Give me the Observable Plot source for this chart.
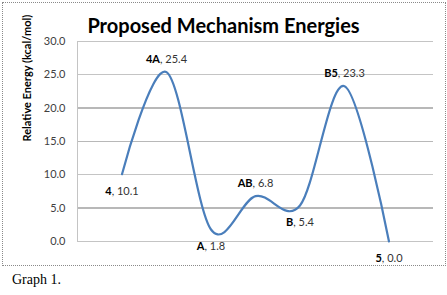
<!DOCTYPE html>
<html><head><meta charset="utf-8">
<script src="https://cdn.jsdelivr.net/npm/d3@7"></script>
<script src="https://cdn.jsdelivr.net/npm/@observablehq/plot@0.6"></script>
<style>
html,body{margin:0;padding:0;background:#fff;}
#wrap{position:relative;width:447px;height:295px;overflow:hidden;font-family:Lato,"Open Sans",sans-serif;}
#frame{position:absolute;left:2px;top:2px;width:442px;height:262px;border:1px dotted #8a8a8a;}
#title{position:absolute;left:0;width:447px;top:13px;text-align:center;font-weight:bold;font-size:20px;line-height:24px;color:#000;white-space:nowrap;}
#chart{position:absolute;left:0;top:0;}
#caption{position:absolute;left:12px;top:272px;font-family:"Liberation Serif","Times New Roman",serif;font-size:14px;color:#000;}
</style></head>
<body>
<div id="wrap">
  <div id="frame"></div>
  <div id="chart"></div>
  <div id="title">Proposed Mechanism Energies</div>
  <div id="caption">Graph 1.</div>
</div>
<script>
// ---- data ----
const names = ["4", "4A", "A", "AB", "B", "B5", "5"];
const energies = [10.1, 25.4, 1.8, 6.8, 5.4, 23.3, 0.0];
const steps = [1, 2, 3, 4, 5, 6, 7];
const yTicks = [0, 5, 10, 15, 20, 25, 30];
const yLabel = "Relative Energy (kcal/mol)";

const data = names.map((n, i) => ({name: n, step: steps[i], energy: energies[i]}));
// a point's label goes above it when it is a local maximum, below otherwise
const isPeak = (d, i) => {
  const prev = i > 0 ? energies[i - 1] : -Infinity;
  const next = i < energies.length - 1 ? energies[i + 1] : -Infinity;
  return d.energy > prev && d.energy > next;
};
const above = data.filter(isPeak);
const below = data.filter((d, i) => !isPeak(d, i));
const labelText = d => `${d.name}, ${d.energy.toFixed(1)}`;

// gridline styling (darker solid vs lighter lines as in the reference)
const solidTicks = yTicks.filter(v => v === 5 || v === 15 || v === 20);
const lightTicks = yTicks.filter(v => !solidTicks.includes(v));

const chart = Plot.plot({
  width: 447,
  height: 268,
  marginLeft: 77,
  marginRight: 14,
  marginTop: 41,
  marginBottom: 27,
  style: {fontFamily: "Lato, 'Open Sans', sans-serif", color: "#404040", background: "none"},
  x: {domain: [0, 8], axis: null},
  y: {domain: [0, 30], axis: null},
  marks: [
    Plot.ruleY(lightTicks, {y: d => d, stroke: "#c4c4c4", strokeWidth: 1, shapeRendering: "crispEdges"}),
    Plot.ruleY(solidTicks, {y: d => d, stroke: "#b8b8b8", strokeWidth: 1.5, shapeRendering: "crispEdges"}),
    Plot.ruleX([0], {x: d => d, stroke: "#c4c4c4", strokeWidth: 1, shapeRendering: "crispEdges"}),
    Plot.axisY({ticks: yTicks, tickFormat: d => d.toFixed(1), tickSize: 0, tickPadding: 12, fontSize: 11, label: null}),
    Plot.text([yLabel], {frameAnchor: "left", text: d => d, rotate: -90, dx: -50, fontWeight: "bold", fontSize: 11, fill: "#000"}),
    Plot.line(data, {x: "step", y: "energy", curve: "cardinal", tension: 0, stroke: "#4a7ebb", strokeWidth: 2.2}),
    Plot.text(above, {x: "step", y: "energy", text: labelText, dy: -13, fontSize: 11, fill: "#333"}),
    Plot.text(below, {x: "step", y: "energy", text: labelText, dy: 17, fontSize: 11, fill: "#333"})
  ]
});

// make the point name bold within each label
const labelSet = new Set(data.map(labelText));
chart.querySelectorAll("text").forEach(t => {
  const s = t.textContent;
  if (!labelSet.has(s)) return;
  const k = s.indexOf(", ");
  t.textContent = "";
  const ns = "http://www.w3.org/2000/svg";
  const a = document.createElementNS(ns, "tspan");
  a.setAttribute("font-weight", "bold");
  a.setAttribute("fill", "#000");
  a.textContent = s.slice(0, k);
  const b = document.createElementNS(ns, "tspan");
  b.textContent = s.slice(k);
  t.appendChild(a);
  t.appendChild(b);
});

document.getElementById("chart").appendChild(chart);
</script>
</body></html>
